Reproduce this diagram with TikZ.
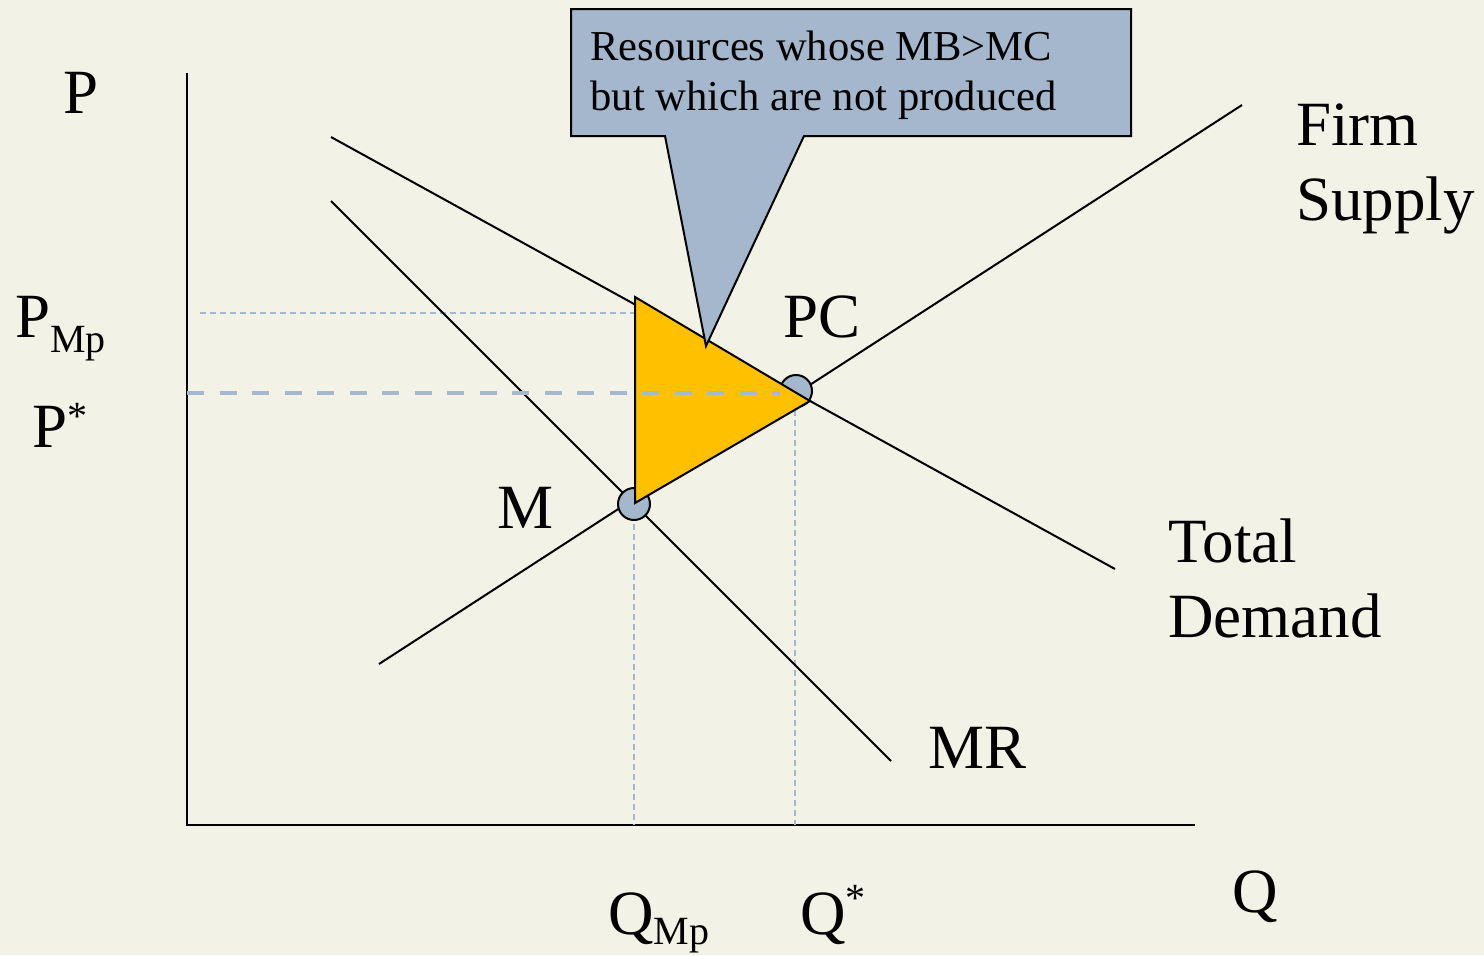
\documentclass[tikz,border=0pt]{standalone}
\usepackage{fontspec}
\setmainfont{Liberation Serif}
\definecolor{paper}{RGB}{242,242,230}
\definecolor{slate}{RGB}{165,183,205}
\definecolor{dashblue}{RGB}{166,184,206}
\definecolor{gold}{RGB}{255,192,0}
\tikzset{
  curve/.style={line width=1pt, black},
  axis/.style={line width=1.2pt, black},
  guide/.style={line width=0.75pt, dashblue, dash pattern=on 3pt off 2pt},
  guidebold/.style={line width=2pt, dashblue, dash pattern=on 8.5pt off 7.75pt},
  dot/.style={circle, draw=black, line width=1pt, fill=slate, minimum size=16pt, inner sep=0pt},
  lab/.style={anchor=base west, inner sep=0pt, font=\fontsize{31.5}{37.5}\selectfont},
  note/.style={anchor=base west, inner sep=0pt, font=\fontsize{21.3}{25}\selectfont}
}
\newcommand{\subtxt}[2]{\raisebox{-#1}{\fontsize{20}{20}\selectfont #2}}
\begin{document}
\begin{tikzpicture}[x=0.5pt,y=-0.5pt]
  % canvas
  \fill[paper] (0,0) rectangle (1484,955);
  \useasboundingbox (0,0) rectangle (1484,955);

  % axes
  \coordinate (origin) at (187,825);
  \coordinate (ytop) at (187,73);
  \coordinate (xend) at (1195,825);
  \draw[axis] (ytop) -- (origin) -- (xend);

  % key points
  \coordinate (pc) at (796,391);
  \coordinate (m) at (634,504);

  % thin guide lines
  \coordinate (pmpL) at (200,313);
  \coordinate (pmpR) at (634,313);
  \coordinate (qmpB) at (634,825);
  \coordinate (qstB) at (795,825);
  \coordinate (qstT) at (795,400);
  \draw[guide] (pmpL) -- (pmpR);
  \draw[guide] (m) -- (qmpB);
  \draw[guide] (qstT) -- (qstB);

  % demand, marginal revenue and supply curves
  \coordinate (dA) at (331,137);
  \coordinate (dB) at (1115,569);
  \coordinate (mrA) at (331,201);
  \coordinate (mrB) at (891,761);
  \coordinate (sA) at (379,664);
  \coordinate (sB) at (1242,105);
  \draw[curve] (dA) -- (dB);
  \draw[curve] (mrA) -- (mrB);
  \draw[curve] (sA) -- (sB);

  % equilibrium markers
  \node[dot] (pcdot) at (pc) {};
  \node[dot] (mdot) at (m) {};

  % deadweight loss triangle
  \coordinate (tT) at (635,297);
  \coordinate (tR) at (810,401);
  \coordinate (tB) at (635,503);
  \filldraw[fill=gold, draw=black, line width=1pt, line join=miter] (tT) -- (tR) -- (tB) -- cycle;

  % P* guide
  \coordinate (pstL) at (187,393);
  \coordinate (pstR) at (780,393);
  \draw[guidebold] (pstL) -- (pstR);

  % callout
  \coordinate (tip) at (706,346);
  \filldraw[fill=slate, draw=black, line width=1pt, line join=miter]
    (571,9) -- (1131,9) -- (1131,136) -- (804,136) -- (tip) -- (665,136) -- (571,136) -- cycle;
  \node[note] (n1) at (590,60) {Resources whose MB>MC};
  \node[note] (n2) at (590,110) {but which are not produced};

  % axis labels
  \node[lab] (plab) at (63,113) {P};
  \node[lab] (pmp) at (15,337) {P\subtxt{7.5pt}{Mp}};
  \node[lab] (pst) at (32,447) {P\raisebox{9pt}{\fontsize{20}{20}\selectfont *}};
  \node[lab] (qmp) at (608,934) {Q\subtxt{5pt}{Mp}};
  \node[lab] (qst) at (800,934) {Q\raisebox{11.5pt}{\fontsize{20}{20}\selectfont *}};
  \node[lab] (qlab) at (1232,912) {Q};

  % curve and point labels
  \node[lab] (mlab) at (497,528) {M};
  \node[lab] (pclab) at (783,337) {PC};
  \node[lab] (mrlab) at (928,768) {MR};
  \node[lab] (fs1) at (1296,145) {Firm};
  \node[lab] (fs2) at (1296,220) {Supply};
  \node[lab] (td1) at (1168,562) {Total};
  \node[lab] (td2) at (1168,637) {Demand};
\end{tikzpicture}
\end{document}
